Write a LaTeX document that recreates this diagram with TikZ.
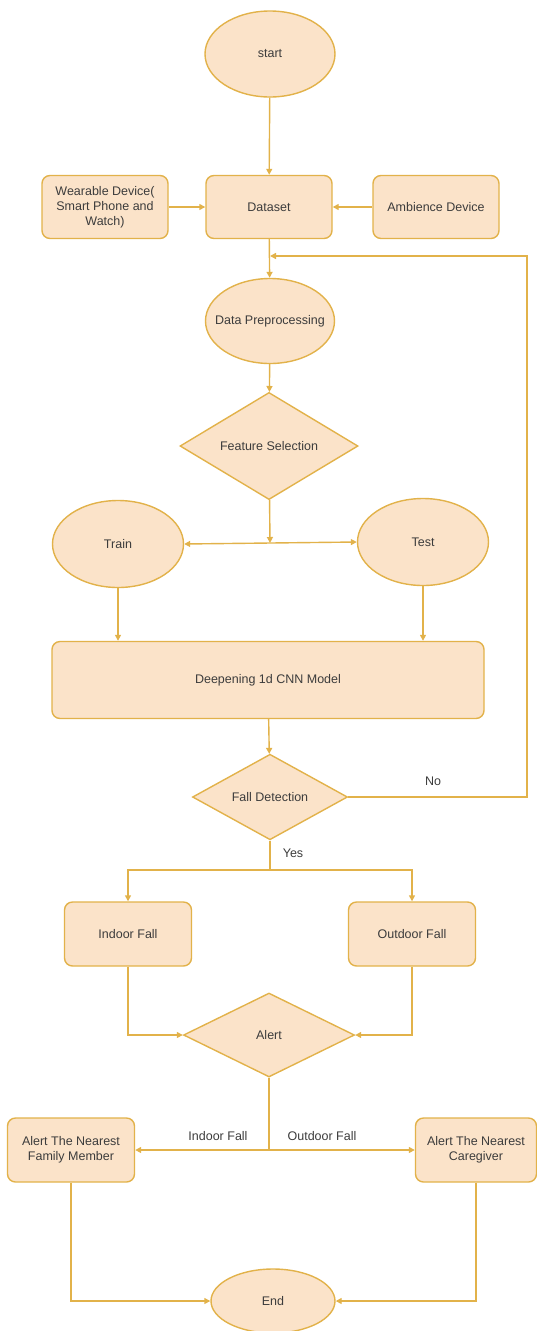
\documentclass[tikz,border=0pt]{standalone}
\usepackage{fontspec}
\setmainfont{Liberation Sans}
\usetikzlibrary{shapes.geometric,arrows.meta}
\definecolor{linegold}{HTML}{E2B24A}
\definecolor{boxfill}{HTML}{FBE3C9}
\definecolor{textgray}{HTML}{3C3C3C}

\begin{document}
\begin{tikzpicture}[x=1pt, y=-1pt, line width=1.4pt,
        every node/.style = {font=\fontsize{12.5}{15}\selectfont, text=textgray},
        term/.style = {draw=linegold, fill=boxfill, ellipse, minimum width=124pt, minimum height=88pt},
        proc/.style = {draw=linegold, fill=boxfill, rounded corners=8pt, minimum width=126pt, minimum height=63pt, align=center},
        choice/.style = {draw=linegold, fill=boxfill, diamond, inner sep=0pt},
        link/.style = {draw=linegold, -{Triangle[length=6pt, width=6pt]}},
        wire/.style = {draw=linegold}]
        \useasboundingbox (0,0) rectangle (537,1331);

        % Nodes
        \node[term, minimum width=130pt, minimum height=86pt] (start) at (270,54) {start};
        \node[proc] (data)  at (269,207) {Dataset};
        \node[proc] (wear)  at (105,207) {Wearable Device(\\Smart Phone and\\Watch)};
        \node[proc] (amb)   at (436,207) {Ambience Device};
        \node[term, minimum width=129pt, minimum height=85pt] (prep) at (270,321) {\makebox[0pt]{Data Preprocessing}};
        \node[choice, minimum width=178pt, minimum height=93pt] (feat) at (269,446) {Feature Selection};
        \node[term, minimum width=131pt, minimum height=87pt] (train) at (118,544) {Train};
        \node[term, minimum width=131pt, minimum height=87pt] (test)  at (423,542) {Test};
        \node[proc, minimum width=432pt, minimum height=77pt] (cnn) at (268,680) {Deepening 1d CNN Model};
        \node[choice, minimum width=155pt, minimum height=83pt] (fall) at (270,797) {Fall Detection};
        \node[proc, minimum width=127pt, minimum height=64pt] (indoor)  at (128,934) {Indoor Fall};
        \node[proc, minimum width=127pt, minimum height=64pt] (outdoor) at (412,934) {Outdoor Fall};
        \node[choice, minimum width=171pt, minimum height=84pt] (alert) at (269,1035) {Alert};
        \node[proc, minimum width=127pt, minimum height=64pt] (family) at (71,1150) {Alert The Nearest\\Family Member};
        \node[proc, minimum width=121pt, minimum height=64pt] (care)   at (476,1150) {Alert The Nearest\\Caregiver};
        \node[term, minimum width=124pt, minimum height=64pt] (end) at (273,1301) {End};

        % Labels
        \node (no)  at (433,781) {No};
        \node (yes) at (293,853) {Yes};
        \node (lin)  at (218,1136) {Indoor Fall};
        \node (lout) at (322,1136) {Outdoor Fall};

        % Helper points
        \coordinate (split)  at (270,543);
        \coordinate (turn)   at (527,256);
        \coordinate (back)   at (270,256);
        \coordinate (fork)   at (270,870);
        \coordinate (notify) at (269,1150);

        % Connections
        \draw[link] (start) -- (data);
        \draw[link] (wear) -- (data);
        \draw[link] (amb) -- (data);
        \draw[link] (data) -- (prep);
        \draw[link] (prep) -- (feat);
        \draw[link] (feat) -- (split);
        \draw[wire, {Triangle[length=6pt, width=6pt]}-{Triangle[length=6pt, width=6pt]}] (train.east) -- (test.west);
        \draw[link] (train) -- (train |- cnn.north);
        \draw[link] (test) -- (test |- cnn.north);
        \draw[link] (cnn) -- (fall);
        \draw[link] (fall.east) -| (turn) -- (back); % loop back to the data
        \draw[wire] (fall.south) -- (fork);
        \draw[link] (fork) -| (indoor.north);
        \draw[link] (fork) -| (outdoor.north);
        \draw[link] (indoor.south) |- (alert.west);
        \draw[link] (outdoor.south) |- (alert.east);
        \draw[wire] (alert.south) -- (notify);
        \draw[link] (notify) -- (family.east);
        \draw[link] (notify) -- (care.west);
        \draw[link] (family.south) |- (end.west);
        \draw[link] (care.south) |- (end.east);
\end{tikzpicture}
\end{document}
